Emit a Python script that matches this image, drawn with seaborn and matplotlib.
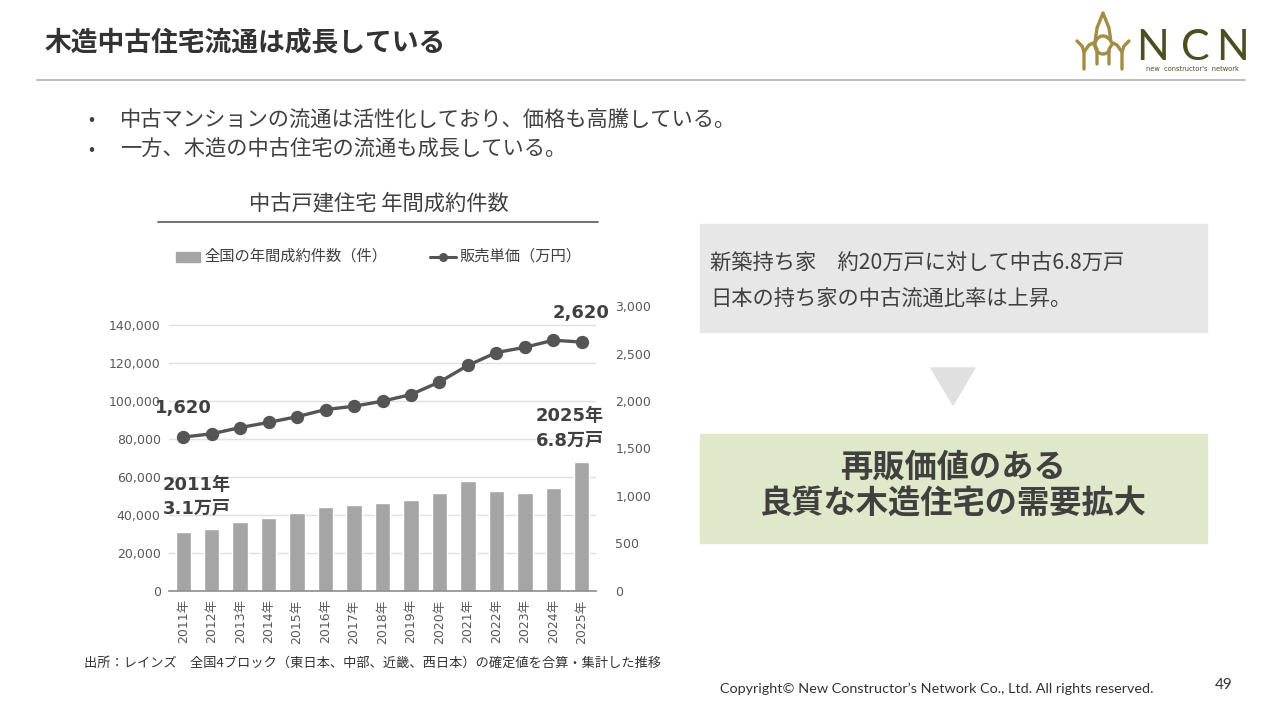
import numpy as np
import pandas as pd
import matplotlib
matplotlib.use("Agg")
import matplotlib.pyplot as plt
from matplotlib.lines import Line2D
from matplotlib.patches import Rectangle, Polygon
import seaborn as sns

# ---------------- data ----------------
years = ["2011年", "2012年", "2013年", "2014年", "2015年", "2016年", "2017年", "2018年",
         "2019年", "2020年", "2021年", "2022年", "2023年", "2024年", "2025年"]
contracts = [31000, 32800, 36300, 38400, 41000, 44000, 45400, 46500,
             47900, 51600, 58100, 52700, 51600, 54100, 67800]
unit_price = [1620, 1655, 1720, 1775, 1835, 1910, 1945, 1998,
              2068, 2200, 2375, 2510, 2565, 2640, 2620]
left_ticks = [0, 20000, 40000, 60000, 80000, 100000, 120000, 140000]
right_ticks = [0, 500, 1000, 1500, 2000, 2500, 3000]

df = pd.DataFrame({"year": years, "contracts": contracts, "price": unit_price})

sns.set_theme(style="white")
plt.rcParams["font.family"] = ["Noto Sans CJK JP", "DejaVu Sans"]
NUM = ["DejaVu Sans", "Noto Sans CJK JP"]

W, H = 1280, 720
fig = plt.figure(figsize=(12.8, 7.2), dpi=100)
fig.patch.set_facecolor("white")


def fx(px):
    return px / W


def fy(py):
    return 1 - py / H


TXT = "#404040"
GRID = "#e0e0e0"
TICK = "#595959"

# ---------------- chart ----------------
ax_l, ax_r, ax_t, ax_b = 169, 596, 306, 591
ax = fig.add_axes([fx(ax_l), fy(ax_b), fx(ax_r - ax_l), (ax_b - ax_t) / H])
sns.barplot(data=df, x="year", y="contracts", ax=ax, color="#a5a5a5",
            saturation=1, width=0.54, zorder=2)
ax.set_ylim(0, 150000)
ax.set_yticks(left_ticks)
ax.set_yticklabels([f"{v:,}" for v in left_ticks], family=NUM, fontsize=9, color=TICK)
ax.set_xlim(-0.5, len(years) - 0.5)
ax.set_xticks(range(len(years)))
ax.set_xticklabels(years, rotation=90, family=NUM, fontsize=9, color=TICK)
ax.grid(axis="y", color=GRID, linewidth=1, zorder=0)
ax.set_axisbelow(True)
for s in ["top", "right", "left"]:
    ax.spines[s].set_visible(False)
ax.spines["bottom"].set_color("#8c8c8c")
ax.spines["bottom"].set_linewidth(1.2)
ax.tick_params(axis="both", length=0, pad=6)
ax.set_xlabel("")
ax.set_ylabel("")

ax2 = ax.twinx()
sns.pointplot(data=df, x="year", y="price", ax=ax2, color="#555555",
              markers="o", markersize=7.8, linewidth=2.4)
ax2.set_ylim(0, 3000)
ax2.set_xlim(-0.5, len(years) - 0.5)
ax2.set_yticks(right_ticks)
ax2.set_yticklabels([f"{v:,}" for v in right_ticks], family=NUM, fontsize=9, color=TICK)
ax2.tick_params(axis="y", length=0, pad=14)
for s in ["top", "right", "left", "bottom"]:
    ax2.spines[s].set_visible(False)
ax2.set_ylabel("")
ax2.set_xlabel("")
ax2.grid(False)

# annotations
bold_kw = dict(family=NUM, fontsize=13, fontweight="bold", color=TXT)
fig.text(fx(155), fy(408), "1,620", ha="left", va="center", **bold_kw)
fig.text(fx(610), fy(313), "2,620", ha="right", va="center", **bold_kw)
fig.text(fx(604), fy(416), "2025年", ha="right", va="center", **bold_kw)
fig.text(fx(604), fy(440), "6.8万戸", ha="right", va="center", **bold_kw)
fig.text(fx(163), fy(485), "2011年", ha="left", va="center", **bold_kw)
fig.text(fx(163), fy(508), "3.1万戸", ha="left", va="center", **bold_kw)

# chart title & legend
fig.text(fx(379), fy(203), "中古戸建住宅 年間成約件数", ha="center", va="center",
         fontsize=15.3, color=TXT)
fig.add_artist(Line2D([fx(158), fx(598)], [fy(222), fy(222)], color="#595959", lw=1.2))
fig.add_artist(Rectangle((fx(176), fy(262)), fx(24), 10 / H, color="#a5a5a5"))
fig.text(fx(204), fy(256), "全国の年間成約件数（件）", ha="left", va="center",
         fontsize=11, color=TXT)
fig.add_artist(Line2D([fx(430), fx(443), fx(456)], [fy(257)] * 3, color="#555555", lw=2.2,
                      marker="o", markersize=5.5, markevery=[1]))
fig.text(fx(459), fy(256), "販売単価（万円）", ha="left", va="center",
         fontsize=11, color=TXT)

# ---------------- header ----------------
fig.text(fx(45), fy(42), "木造中古住宅流通は成長している", ha="left", va="center",
         fontsize=19.3, fontweight="bold", color="#333333")
fig.add_artist(Line2D([fx(37), fx(1245)], [fy(80), fy(80)], color="#b0b0b0", lw=1.2))

# logo
gold = "#a38d45"
olive = "#4f4d22"
logo_lines = [
    ([1077, 1082, 1084, 1084], [41, 46, 52, 69]),
    ([1084, 1089, 1093, 1097, 1097], [52, 45, 43, 49, 64]),
    ([1129, 1124, 1122, 1122], [41, 46, 52, 69]),
    ([1122, 1117, 1113, 1109, 1109], [52, 45, 43, 49, 64]),
    ([1095, 1097, 1101, 1103, 1105, 1109, 1111], [42, 28, 18, 13, 18, 28, 42]),
]
for xs, ys in logo_lines:
    fig.add_artist(Line2D([fx(v) for v in xs], [fy(v) for v in ys], color=gold, lw=2.4,
                          solid_capstyle="round", solid_joinstyle="round"))
th = np.linspace(np.deg2rad(40), np.deg2rad(320), 40)
fig.add_artist(Line2D([fx(1103 + 8 * np.cos(t)) for t in th],
                      [fy(45 - 9 * np.sin(t)) for t in th], color=gold, lw=2.4))
for cx, ch in [(1153, "N"), (1195, "C"), (1232, "N")]:
    fig.text(fx(cx), fy(60), ch, ha="center", va="baseline", fontsize=31, color=olive,
             family="Lato", fontweight="normal")
fig.text(fx(1192), fy(69), "new  constructor's  network", ha="center", va="center",
         fontsize=4.8, color=olive, family="DejaVu Sans")

# bullets
fig.text(fx(88), fy(120), "•", ha="left", va="center", fontsize=13, color=TXT)
fig.text(fx(88), fy(150), "•", ha="left", va="center", fontsize=13, color=TXT)
fig.text(fx(120), fy(120), "中古マンションの流通は活性化しており、価格も高騰している。",
         ha="left", va="center", fontsize=15.3, color=TXT)
fig.text(fx(120), fy(150), "一方、木造の中古住宅の流通も成長している。",
         ha="left", va="center", fontsize=15.3, color=TXT)

# ---------------- right panel ----------------
fig.add_artist(Rectangle((fx(700), fy(332)), fx(507), 108 / H, color="#e7e7e7"))
fig.text(fx(710), fy(264), "新築持ち家　約20万戸に対して中古6.8万戸", ha="left",
         va="center", fontsize=15.3, color=TXT)
fig.text(fx(710), fy(300), "日本の持ち家の中古流通比率は上昇。", ha="left",
         va="center", fontsize=15.3, color=TXT)
fig.add_artist(Polygon([(fx(931), fy(368)), (fx(975), fy(368)), (fx(953), fy(405))],
                       closed=True, color="#e0e0e0"))
fig.add_artist(Rectangle((fx(700), fy(543)), fx(507), 109 / H, color="#dfe8c9"))
fig.text(fx(953), fy(467), "再販価値のある", ha="center", va="center",
         fontsize=23.2, fontweight="bold", color=TXT)
fig.text(fx(953), fy(503), "良質な木造住宅の需要拡大", ha="center", va="center",
         fontsize=23.2, fontweight="bold", color=TXT)

# ---------------- footer ----------------
fig.text(fx(84), fy(663), "出所：レインズ　全国4ブロック（東日本、中部、近畿、西日本）の確定値を合算・集計した推移",
         ha="left", va="center", fontsize=9.5, color="#333333")
fig.text(fx(720), fy(689), "Copyright© New Constructor’s Network Co., Ltd. All rights reserved.",
         ha="left", va="center", fontsize=10.4, color="#333333", family="Lato")
fig.text(fx(1224), fy(685), "49", ha="center", va="center", fontsize=11, color="#333333",
         family="Lato")

fig.savefig("out.png", dpi=100, facecolor="white")
